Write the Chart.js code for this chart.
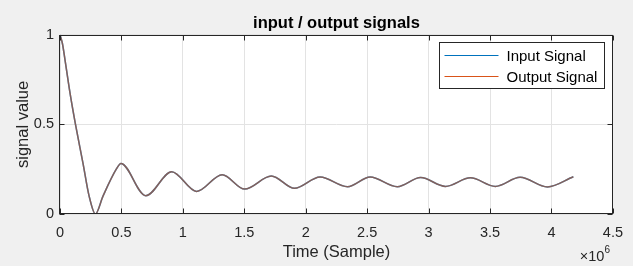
<!DOCTYPE html>
<html><head><meta charset="utf-8">
<script src="https://cdn.jsdelivr.net/npm/chart.js@4"></script>
<style>html,body{margin:0;padding:0;background:#f0f0f0;overflow:hidden}</style>
</head><body>
<canvas id="c" width="633" height="266" style="display:block;width:633px;height:266px"></canvas>
<script>
// ---- data ----
const sampleTimes = [0, 20000, 45000, 85000, 126000, 188000, 237000, 288000, 350000, 458000, 496000,
  698000, 909000, 1112000, 1320000, 1503000, 1720000, 1908000, 2117000, 2340000, 2524000,
  2745000, 2935000, 3138000, 3340000, 3543000, 3745000, 3967000, 4178000];
const inputSignal = [1.0, 0.95, 0.84, 0.66, 0.50, 0.28, 0.10, 0.0, 0.10, 0.25, 0.282,
  0.102, 0.236, 0.126, 0.219, 0.139, 0.212, 0.143, 0.206, 0.152, 0.206,
  0.152, 0.203, 0.154, 0.202, 0.154, 0.205, 0.151, 0.208];
const outputSignal = [1.0, 0.95, 0.84, 0.66, 0.50, 0.28, 0.10, 0.0, 0.10, 0.25, 0.282,
  0.102, 0.236, 0.126, 0.219, 0.139, 0.212, 0.143, 0.206, 0.152, 0.206,
  0.152, 0.203, 0.154, 0.202, 0.154, 0.205, 0.151, 0.208];
const seriesNames = ['Input Signal', 'Output Signal'];
const xTickValues = [0, 500000, 1000000, 1500000, 2000000, 2500000, 3000000, 3500000, 4000000, 4500000];
const xTickLabels = ['0', '0.5', '1', '1.5', '2', '2.5', '3', '3.5', '4', '4.5'];
const yTickValues = [0, 0.5, 1];
const yTickLabels = ['0', '0.5', '1'];
const xExponentBase = '\u00d710';
const xExponentPower = '6';
const chartTitle = 'input / output signals';
const xAxisTitle = 'Time (Sample)';
const yAxisTitle = 'signal value';

// ---- styling ----
const FONT = '"Liberation Sans", Arial, Helvetica, sans-serif';
const AXIS_COLOR = '#262626';
const COLORS = ['#0072BD', 'rgba(217,83,25,0.6)'];
const LEGEND_COLORS = ['#0072BD', '#D95319'];

const toPoints = (xs, ys) => xs.map((x, i) => ({x: x, y: ys[i]}));

const framePlugin = {
  id: 'frame',
  beforeDraw(chart) {
    const {ctx, chartArea: a} = chart;
    ctx.save();
    ctx.fillStyle = '#f0f0f0';
    ctx.fillRect(0, 0, chart.width, chart.height);
    ctx.fillStyle = '#ffffff';
    ctx.fillRect(a.left, a.top, a.right - a.left, a.bottom - a.top);
    ctx.restore();
  },
  afterDraw(chart) {
    const {ctx, chartArea: a, scales} = chart;
    ctx.save();
    ctx.strokeStyle = AXIS_COLOR;
    ctx.lineWidth = 1;
    const L = Math.round(a.left) - 0.5, R = Math.round(a.right) - 0.5;
    const T = Math.round(a.top) + 0.5, B = Math.round(a.bottom) - 0.5;
    ctx.strokeRect(L, T, R - L, B - T);
    const tl = 5;
    ctx.beginPath();
    xTickValues.forEach(v => {
      const px = Math.round(scales.x.getPixelForValue(v)) + 0.5;
      ctx.moveTo(px, B); ctx.lineTo(px, B - tl);
      ctx.moveTo(px, T); ctx.lineTo(px, T + tl);
    });
    yTickValues.forEach(v => {
      const py = Math.round(scales.y.getPixelForValue(v)) + 0.5;
      ctx.moveTo(L, py); ctx.lineTo(L + tl, py);
      ctx.moveTo(R, py); ctx.lineTo(R - tl, py);
    });
    ctx.stroke();

    // legend (inside, top-right)
    const lw = 165, lh = 46;
    const lx = Math.round(a.right) - 9 - lw + 0.5, ly = Math.round(a.top) + 7.5;
    ctx.fillStyle = '#ffffff';
    ctx.fillRect(lx, ly, lw, lh);
    ctx.strokeStyle = AXIS_COLOR;
    ctx.strokeRect(lx, ly, lw, lh);
    ctx.font = '15px ' + FONT;
    ctx.textBaseline = 'middle';
    ctx.textAlign = 'left';
    chart.data.datasets.forEach((ds, i) => {
      const y = Math.round(ly + 12.5 + i * 20.5) + 0.5;
      ctx.strokeStyle = LEGEND_COLORS[i];
      ctx.lineWidth = 1;
      ctx.beginPath();
      ctx.moveTo(lx + 5, y); ctx.lineTo(lx + 59, y);
      ctx.stroke();
      ctx.fillStyle = '#000000';
      ctx.fillText(ds.label, lx + 67, y + 1);
    });

    // x exponent label
    ctx.fillStyle = AXIS_COLOR;
    ctx.textAlign = 'right';
    ctx.textBaseline = 'alphabetic';
    ctx.font = '10px ' + FONT;
    const ex = Math.round(a.right) - 3;
    ctx.fillText(xExponentPower, ex, a.bottom + 39);
    const pw = ctx.measureText(xExponentPower).width;
    ctx.font = '14.5px ' + FONT;
    ctx.fillText(xExponentBase, ex - pw, a.bottom + 47);
    ctx.restore();
  }
};

new Chart(document.getElementById('c'), {
  type: 'line',
  data: {
    datasets: [
      {label: seriesNames[0], data: toPoints(sampleTimes, inputSignal), borderColor: COLORS[0],
       borderWidth: 1.5, pointRadius: 0, fill: false, cubicInterpolationMode: 'monotone', order: 2},
      {label: seriesNames[1], data: toPoints(sampleTimes, outputSignal), borderColor: COLORS[1],
       borderWidth: 1.5, pointRadius: 0, fill: false, cubicInterpolationMode: 'monotone', order: 1}
    ]
  },
  options: {
    responsive: false,
    animation: false,
    devicePixelRatio: 1,
    layout: {padding: {left: 0, right: 19, top: 0, bottom: 0}},
    plugins: {
      legend: {display: false},
      tooltip: {enabled: false},
      title: {display: true, text: chartTitle, fullSize: false, color: '#000000',
        font: {family: FONT, size: 16.5, weight: 'bold'}, padding: {top: 14, bottom: 1}}
    },
    scales: {
      x: {
        type: 'linear', min: 0, max: 4500000,
        afterBuildTicks: s => { s.ticks = xTickValues.map(v => ({value: v})); },
        afterFit: s => { s.height = 52; },
        ticks: {callback: (v, i) => xTickLabels[i], color: AXIS_COLOR, padding: 10,
          maxRotation: 0, autoSkip: false, font: {family: FONT, size: 14.5}},
        grid: {color: '#e3e3e3', lineWidth: 1, drawTicks: false},
        border: {display: false},
        title: {display: true, text: xAxisTitle, color: AXIS_COLOR,
          font: {family: FONT, size: 16.5}, padding: {top: 0, bottom: 4}}
      },
      y: {
        type: 'linear', min: 0, max: 1,
        afterBuildTicks: s => { s.ticks = yTickValues.map(v => ({value: v})); },
        afterFit: s => { s.width = 60; },
        ticks: {callback: (v, i) => yTickLabels[i], color: AXIS_COLOR, padding: 6,
          autoSkip: false, font: {family: FONT, size: 14.5}},
        grid: {color: '#e3e3e3', lineWidth: 1, drawTicks: false},
        border: {display: false},
        title: {display: true, text: yAxisTitle, color: AXIS_COLOR,
          font: {family: FONT, size: 16.5}, padding: {top: 14, bottom: 0}}
      }
    }
  },
  plugins: [framePlugin]
});
</script>
</body></html>
